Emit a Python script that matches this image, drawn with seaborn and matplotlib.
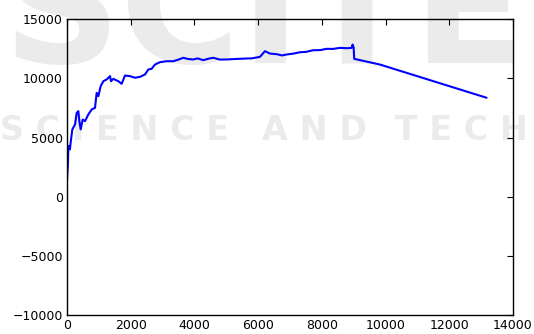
import numpy as np
import pandas as pd
import matplotlib
matplotlib.use('Agg')
import matplotlib.pyplot as plt
import seaborn as sns

# values
steps = [0, 30, 40, 45, 90, 126, 167, 251, 304, 356, 387, 429, 492, 565, 670,
         775, 879, 931, 984, 1057, 1140, 1246, 1350, 1381, 1454, 1611, 1716,
         1820, 1977, 2134, 2291, 2448, 2553, 2657, 2762, 2919, 3129, 3337,
         3500, 3651, 3800, 3964, 4100, 4278, 4450, 4592, 4800, 5010, 5300,
         5637, 5800, 6058, 6215, 6372, 6600, 6750, 6896, 7100, 7313, 7500,
         7731, 7950, 8151, 8350, 8568, 8800, 8936, 8967, 9000, 9018, 9824,
         13173]
reward = [1400, 2870, 4000, 4300, 4000, 4840, 5690, 6110, 7100, 7240, 6390,
          5690, 6530, 6390, 6960, 7380, 7520, 8790, 8500, 9350, 9770, 9920,
          10200, 9770, 9970, 9770, 9550, 10250, 10200, 10060, 10140, 10340,
          10760, 10820, 11180, 11380, 11460, 11460, 11600, 11750, 11650,
          11610, 11700, 11550, 11680, 11750, 11600, 11610, 11650, 11690,
          11700, 11830, 12310, 12110, 12050, 11950, 12030, 12100, 12220,
          12250, 12390, 12400, 12510, 12500, 12590, 12560, 12590, 12870,
          12600, 11660, 11180, 8370]

df = pd.DataFrame({'step': steps, 'reward': reward})

sns.set_style('white')
plt.rcParams['font.family'] = ['DejaVu Sans']

fig = plt.figure(figsize=(5.34, 3.34), dpi=100)

# publisher watermark behind the chart
wm = '#ebebeb'
fig.text(0.005, 0.81, 'SCITE', fontsize=118, fontweight='bold', color=wm,
         ha='left', va='baseline', zorder=0)
fig.text(0.0, 0.582, 'S C I E N C E', fontsize=24, fontweight='bold',
         color=wm, ha='left', va='baseline', zorder=0)
fig.text(0.49, 0.582, 'A N D', fontsize=24, fontweight='bold',
         color=wm, ha='left', va='baseline', zorder=0)
fig.text(0.74, 0.582, 'T E C H', fontsize=24, fontweight='bold',
         color=wm, ha='left', va='baseline', zorder=0)

ax = fig.add_axes([0.1255, 0.057, 0.835, 0.885])
ax.set_zorder(1)
ax.patch.set_alpha(0)
sns.lineplot(data=df, x='step', y='reward', sort=False, color='blue',
             linewidth=1.5, ax=ax)

ax.set_xlim(0, 14000)
ax.set_ylim(-10000, 15000)
ax.set_xticks(range(0, 14001, 2000))
ax.set_yticks(range(-10000, 15001, 5000))
ax.set_xlabel('')
ax.set_ylabel('')
ax.tick_params(direction='in', top=True, right=True, length=4, width=0.8,
               labelsize=9, colors='black', pad=3)
for s in ax.spines.values():
    s.set_color('black')
    s.set_linewidth(1.0)

fig.savefig('out.png', dpi=100)
